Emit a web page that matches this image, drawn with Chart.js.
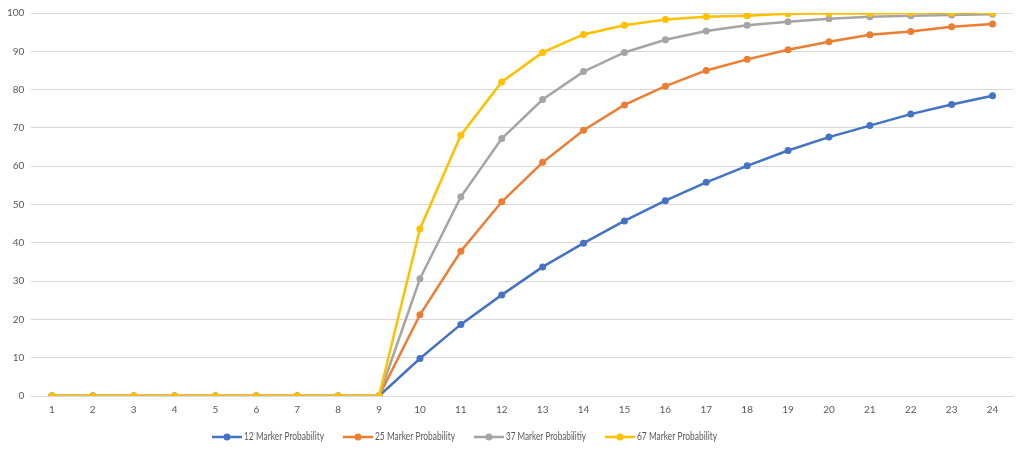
<!DOCTYPE html>
<html lang="en">
<head>
  <meta charset="UTF-8">
  <title>Marker Probability</title>
  <script src="https://cdn.jsdelivr.net/npm/chart.js"></script>
  <style>
    html, body { margin: 0; padding: 0; background: #ffffff; }
    #wrap { width: 1022px; height: 451px; }
  </style>
</head>
<body>
  <div id="wrap"><canvas id="grafico" width="1022" height="451"></canvas></div>

  <script>
    const generaciones = ['1','2','3','4','5','6','7','8','9','10','11','12','13','14','15','16','17','18','19','20','21','22','23','24'];

    const prob12 = [0,0,0,0,0,0,0,0,0, 9.8,18.7,26.4,33.7,39.9,45.7,51.0,55.8,60.1,64.1,67.6,70.6,73.6,76.1,78.4];
    const prob25 = [0,0,0,0,0,0,0,0,0, 21.2,37.8,50.7,61.0,69.4,76.0,80.9,85.0,87.9,90.4,92.5,94.3,95.2,96.4,97.1];
    const prob37 = [0,0,0,0,0,0,0,0,0, 30.6,52.0,67.2,77.4,84.7,89.7,93.0,95.3,96.8,97.7,98.5,99.0,99.3,99.5,99.7];
    const prob67 = [0,0,0,0,0,0,0,0,0, 43.6,68.1,82.0,89.7,94.4,96.8,98.3,99.0,99.3,99.8,99.9,99.9,100,100,100];

    const etiquetas = ['12 Marker Probability', '25 Marker Probability', '37 Marker Probabilitiy', '67 Marker Probability'];
    const colores = ['#4472C4', '#ED7D31', '#A5A5A5', '#FFC000'];
    const series = [prob12, prob25, prob37, prob67];

    const fuente = 'Lato, "Open Sans", sans-serif';

    // leyenda estilo Excel: linea con punto y texto
    const leyendaExcel = {
      id: 'leyendaExcel',
      afterDraw(chart) {
        const ctx = chart.ctx;
        ctx.save();
        ctx.font = '10.5px ' + fuente;
        ctx.textBaseline = 'middle';
        let x = 212;
        const y = 437;
        chart.data.datasets.forEach(ds => {
          ctx.strokeStyle = ds.borderColor;
          ctx.lineWidth = 2.5;
          ctx.beginPath();
          ctx.moveTo(x, y);
          ctx.lineTo(x + 30, y);
          ctx.stroke();
          ctx.fillStyle = ds.borderColor;
          ctx.beginPath();
          ctx.arc(x + 15, y, 3.5, 0, Math.PI * 2);
          ctx.fill();
          ctx.fillStyle = '#595959';
          const ancho = Math.min(ctx.measureText(ds.label).width, 80);
          ctx.fillText(ds.label, x + 32, y, 80);
          x += 32 + ancho + 19;
        });
        ctx.restore();
      }
    };

    const ctx = document.getElementById('grafico').getContext('2d');
    new Chart(ctx, {
      type: 'line',
      data: {
        labels: generaciones,
        datasets: series.map((d, i) => ({
          label: etiquetas[i],
          data: d,
          borderColor: colores[i],
          backgroundColor: colores[i],
          borderWidth: 2.5,
          pointRadius: 3.5,
          pointHoverRadius: 3.5,
          pointBorderWidth: 0,
          tension: 0,
          fill: false,
          order: 4 - i
        }))
      },
      options: {
        responsive: false,
        animation: false,
        layout: { padding: { top: 2, right: 9, bottom: 27, left: 0 } },
        plugins: {
          legend: { display: false },
          tooltip: { enabled: false }
        },
        scales: {
          x: {
            offset: true,
            grid: { display: false, drawTicks: false },
            border: { color: '#d9d9d9' },
            ticks: { color: '#595959', font: { size: 10, family: fuente }, padding: 8, maxRotation: 0, autoSkip: false }
          },
          y: {
            min: 0,
            max: 100,
            ticks: { stepSize: 10, color: '#595959', font: { size: 10, family: fuente }, padding: 7 },
            grid: { color: '#d9d9d9', drawTicks: false },
            border: { display: false }
          }
        }
      },
      plugins: [leyendaExcel]
    });
  </script>
</body>
</html>
